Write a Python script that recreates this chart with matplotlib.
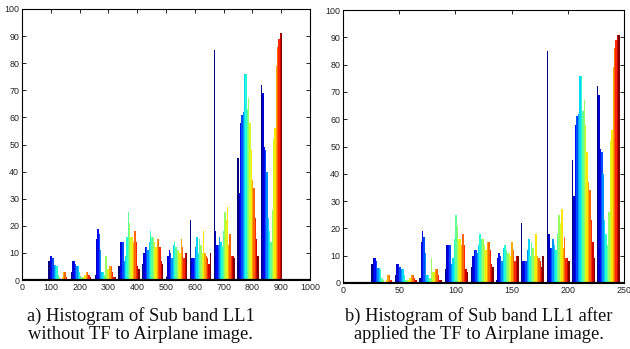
import numpy as np
import matplotlib
matplotlib.use('Agg')
import matplotlib.pyplot as plt

###############################################################################
# data: 10 groups, 16 jet-coloured bars per group
###############################################################################

g01 = [7, 9, 9, 8, 5.5, 5.5, 5, 2, 1, 0.5, 1, 3, 3, 1, 0.5, 0.5]
g02 = [3, 7, 7, 6, 5, 5, 3, 1, 1, 1, 2, 3, 3, 2, 1, 0.5]
g03 = [2, 15, 19, 17, 11, 3, 3, 2, 9, 4, 4, 5, 5, 3, 1, 1]
g04 = [5, 14, 14, 14, 7, 9, 16, 25, 21, 16, 16, 14, 18, 14, 5, 4]
g05 = [6, 10, 12, 12, 11, 14, 18, 16, 16, 14, 12, 15, 15, 12, 7, 6]
g06 = [1, 9, 11, 10, 8, 13, 14, 12, 11, 11, 10, 15, 12, 8, 10, 10]
g07 = [22, 8, 8, 8, 12, 16, 10, 15, 13, 10, 18, 10, 9, 8, 6, 10]
g08 = [85, 18, 13, 13, 16, 14, 12, 18, 25, 22, 27, 13, 17, 9, 9, 8]
g09 = [45, 32, 58, 61, 62, 76, 76, 63, 67, 58, 48, 37, 34, 23, 15, 9]
g10 = [72, 69, 49, 48, 40, 23, 18, 14, 26, 52, 56, 79, 86, 89, 91, 91]

groups = [g01, g02, g03, g04, g05, g06, g07, g08, g09, g10]

# group centres on each x axis
centresA = [128, 207, 289, 372, 454, 537, 619, 702, 785, 867]
centresB = [35.5, 56.5, 78, 101, 124, 146, 168.5, 191.5, 214, 236]
widthA = 74.0
widthB = 20.5

xticksA = [0, 100, 200, 300, 400, 500, 600, 700, 800, 900, 1000]
xticksB = [0, 50, 100, 150, 200, 250]
yticks = [0, 10, 20, 30, 40, 50, 60, 70, 80, 90, 100]

captionA = 'a) Histogram of Sub band LL1\nwithout TF to Airplane image.'
captionB = 'b) Histogram of Sub band LL1 after\napplied the TF to Airplane image.'

###############################################################################
###############################################################################

plt.rcParams['font.family'] = ['Liberation Sans', 'DejaVu Sans']

fig = plt.figure(figsize=(6.30, 3.49), dpi=100)
axA = fig.add_axes([22/630, 1-280/349, 288/630, 271/349])
axB = fig.add_axes([343/630, 1-283/349, 281/630, 273/349])

nbar = len(g01)
cols = plt.cm.jet(np.linspace(0, 1, nbar))


def draw_hist(ax, centres, gw, xmax, xticks):
    bw = gw / nbar
    for c, h in zip(centres, groups):
        xs = c + (np.arange(nbar) - (nbar - 1) / 2.0) * bw
        ax.bar(xs, h, width=bw * 1.02, color=cols, linewidth=0, zorder=2)
    ax.axhline(0, color='k', lw=1.6, zorder=3)
    ax.set_xlim(0, xmax)
    ax.set_ylim(0, 100)
    ax.set_xticks(xticks)
    ax.set_yticks(yticks)
    ax.tick_params(direction='in', length=3, width=0.6, top=True, right=True,
                   labelsize=6.4, labelcolor='#222222', pad=2)
    for s in ax.spines.values():
        s.set_linewidth(0.8)


draw_hist(axA, centresA, widthA, 1000, xticksA)
draw_hist(axB, centresB, widthB, 250, xticksB)

fig.text(141/630, 1-325/349, captionA, ha='center', va='center',
         family='Liberation Serif', fontsize=13.3, color='#111111', linespacing=1.05)
fig.text(479/630, 1-325/349, captionB, ha='center', va='center',
         family='Liberation Serif', fontsize=13.3, color='#111111', linespacing=1.05)

fig.savefig('out.png', dpi=100)
